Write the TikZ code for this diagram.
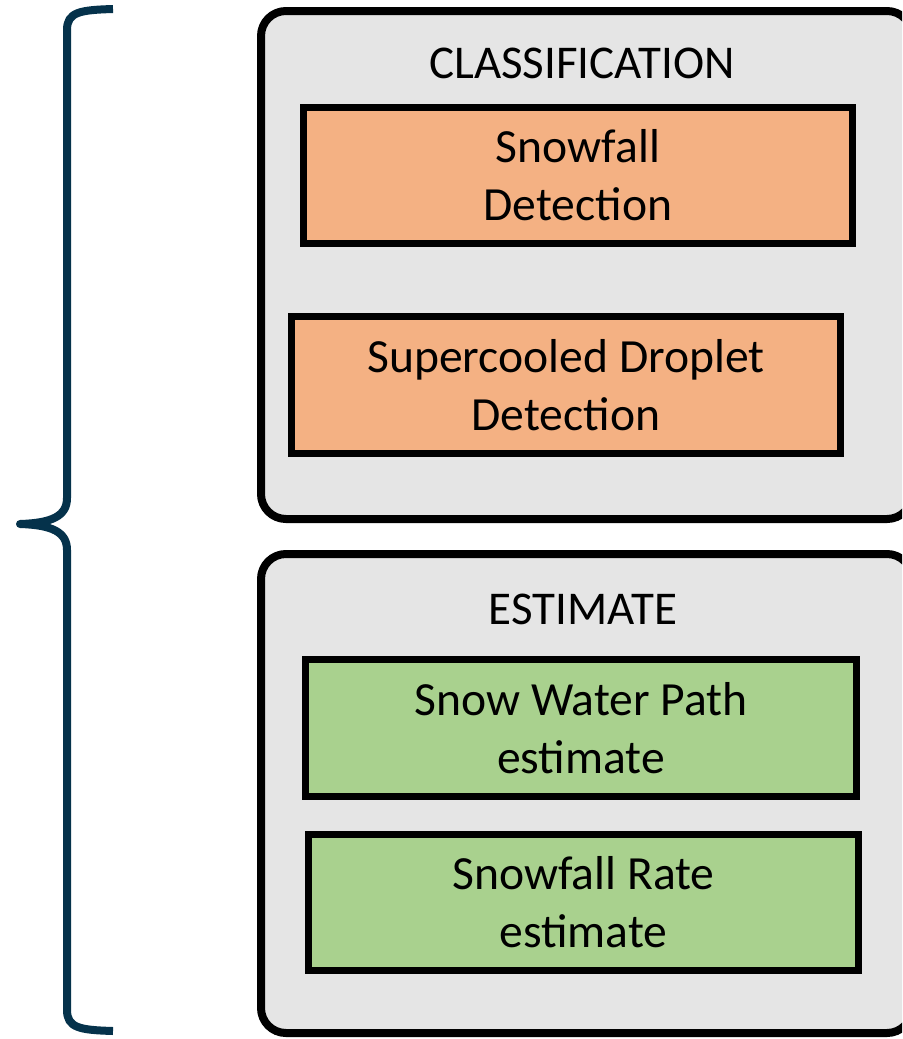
\documentclass[tikz,border=0pt]{standalone}
\usepackage{fontspec}
\setmainfont{Carlito}
\definecolor{braceblue}{RGB}{5,50,75}
\definecolor{boxgray}{RGB}{229,229,229}
\definecolor{detorange}{RGB}{244,177,131}
\definecolor{estgreen}{RGB}{169,209,142}

\begin{document}
\begin{tikzpicture}[x=0.5pt,y=-0.5pt,
  group box/.style={draw,fill=boxgray,line width=4pt,rounded corners=12.5pt,minimum width=325.5pt},
  main node/.style={draw,line width=3.5pt,align=center,font=\fontsize{23.8}{29}\selectfont},
  title/.style={anchor=base,font=\fontsize{23.5}{29}\selectfont}]
\useasboundingbox (0,0) rectangle (902,1039);
\clip (0,0) rectangle (902,1039);

% Brace
  \draw[braceblue,line width=4pt,line join=round]
    (113,9) .. controls (80,10) and (67,12) .. (67,30) -- (67,498)
    .. controls (67,516) and (52,523) .. (20,524)
    .. controls (52,525) and (67,532) .. (67,550) -- (67,1010)
    .. controls (67,1028) and (80,1030) .. (113,1031);

% Classification group
  \node[group box,minimum height=254pt] (classgroup) at (586.5,265) {};
  \node[title] (classtitle) at (582,78) {CLASSIFICATION};
  \node[main node,fill=detorange,minimum width=274.5pt,minimum height=68pt] (snowdet) at (578,175.5) {Snowfall\\Detection};
  \node[main node,fill=detorange,minimum width=274.5pt,minimum height=68.5pt] (scddet) at (566,385) {Supercooled Droplet\\Detection};

% Estimate group
  \node[group box,minimum height=239.5pt] (estgroup) at (586.5,793.5) {};
  \node[title] (esttitle) at (583,624) {ESTIMATE};
  \node[main node,fill=estgreen,minimum width=275.5pt,minimum height=68.5pt] (swpest) at (581,728) {Snow Water Path\\estimate};
  \node[main node,fill=estgreen,minimum width=275pt,minimum height=68pt] (sfrest) at (583.5,902.5) {Snowfall Rate\\estimate};

\end{tikzpicture}
\end{document}
